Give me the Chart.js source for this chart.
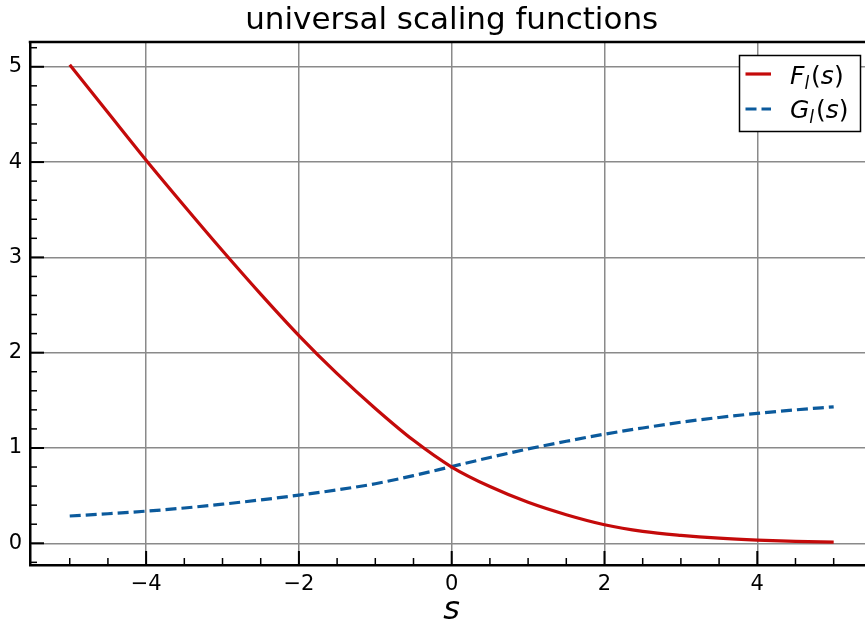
<!DOCTYPE html>
<html>
<head>
<meta charset="utf-8">
<script src="https://cdn.jsdelivr.net/npm/chart.js@4/dist/chart.umd.min.js"></script>
<style>
  html, body { margin: 0; padding: 0; background: #fff; }
  canvas { display: block; }
</style>
</head>
<body>
<canvas id="myChart" width="865" height="624"></canvas>
<script>
// values
const sValues = [-5, -4.5, -4, -3.5, -3, -2.5, -2, -1.5, -1, -0.5, 0, 0.5, 1, 1.5, 2, 2.5, 3, 3.5, 4, 4.5, 5];
const fValues = [5.02, 4.52, 4.02, 3.54, 3.07, 2.615, 2.18, 1.78, 1.415, 1.08, 0.80, 0.595, 0.43, 0.30, 0.195, 0.125, 0.083, 0.053, 0.033, 0.02, 0.012];
const gValues = [0.286, 0.31, 0.337, 0.37, 0.41, 0.455, 0.505, 0.56, 0.625, 0.71, 0.805, 0.90, 0.99, 1.07, 1.145, 1.21, 1.27, 1.32, 1.363, 1.40, 1.432];

const xTicks = [-4, -2, 0, 2, 4];
const yTicks = [0, 1, 2, 3, 4, 5];
const title = 'universal scaling functions';

const RED = '#c40a0a';
const BLUE = '#0b5a9c';
const FONT = 'DejaVu Sans';

function toPoints(ys) {
    return sValues.map((s, i) => ({ x: s, y: ys[i] }));
}

// inward ticks, top spine, title, axis label and legend
const decor = {
    id: 'decor',
    afterDraw(chart) {
        const ctx = chart.ctx;
        const a = chart.chartArea;
        const xs = chart.scales.x, ys = chart.scales.y;
        ctx.save();
        ctx.strokeStyle = '#000';

        // top spine
        ctx.lineWidth = 2.5;
        ctx.beginPath();
        ctx.moveTo(a.left - 1.25, a.top);
        ctx.lineTo(a.right, a.top);
        ctx.stroke();

        // x ticks
        for (let v = -5; v <= 5.001; v += 0.5) {
            const major = Math.abs(v % 2) < 1e-6;
            const px = xs.getPixelForValue(v);
            ctx.lineWidth = major ? 2 : 1.5;
            ctx.beginPath();
            ctx.moveTo(px, a.bottom);
            ctx.lineTo(px, a.bottom - (major ? 14 : 7));
            ctx.stroke();
        }
        // y ticks
        for (let v = -0.2; v <= 5.21; v += 0.2) {
            const r = Math.round(v * 10) / 10;
            const major = Math.abs(r - Math.round(r)) < 1e-6;
            const py = ys.getPixelForValue(r);
            ctx.lineWidth = major ? 2 : 1.5;
            ctx.beginPath();
            ctx.moveTo(a.left, py);
            ctx.lineTo(a.left + (major ? 14 : 7), py);
            ctx.stroke();
        }

        // title
        ctx.fillStyle = '#000';
        ctx.font = '31px "' + FONT + '"';
        ctx.textAlign = 'center';
        ctx.textBaseline = 'alphabetic';
        const cx = xs.getPixelForValue(0);
        ctx.fillText(title, cx, 29);

        // axis label
        ctx.font = 'italic 32px "' + FONT + '"';
        ctx.fillText('s', cx, 619);

        // legend
        const lx = 739.5, ly = 55.5, lw = 121, lh = 76;
        ctx.fillStyle = '#fff';
        ctx.fillRect(lx, ly, lw, lh);
        ctx.lineWidth = 1.5;
        ctx.strokeStyle = '#000';
        ctx.strokeRect(lx, ly, lw, lh);

        const rows = [
            { base: 'F', color: RED, dash: [], y: 74, baseline: 84 },
            { base: 'G', color: BLUE, dash: [11, 5], y: 109, baseline: 118 }
        ];
        rows.forEach(r => {
            ctx.strokeStyle = r.color;
            ctx.lineWidth = 3.2;
            ctx.setLineDash(r.dash);
            ctx.beginPath();
            ctx.moveTo(745.5, r.y);
            ctx.lineTo(771, r.y);
            ctx.stroke();
            ctx.setLineDash([]);

            ctx.fillStyle = '#000';
            ctx.textAlign = 'left';
            let x = 790;
            ctx.font = 'italic 25px "' + FONT + '"';
            ctx.fillText(r.base, x, r.baseline);
            x += ctx.measureText(r.base).width;
            ctx.font = 'italic 17px "' + FONT + '"';
            ctx.fillText('l', x, r.baseline + 5);
            x += ctx.measureText('l').width + 2;
            ctx.font = '25px "' + FONT + '"';
            ctx.fillText('(', x, r.baseline);
            x += ctx.measureText('(').width;
            ctx.font = 'italic 25px "' + FONT + '"';
            ctx.fillText('s', x, r.baseline);
            x += ctx.measureText('s').width;
            ctx.font = '25px "' + FONT + '"';
            ctx.fillText(')', x, r.baseline);
        });
        ctx.restore();
    }
};

const config = {
    type: 'line',
    data: {
        datasets: [
            {
                label: 'F_l(s)',
                data: toPoints(fValues),
                borderColor: RED,
                borderWidth: 3.2,
                pointRadius: 0,
                cubicInterpolationMode: 'monotone',
                fill: false
            },
            {
                label: 'G_l(s)',
                data: toPoints(gValues),
                borderColor: BLUE,
                borderWidth: 3.2,
                borderDash: [11, 5],
                pointRadius: 0,
                cubicInterpolationMode: 'monotone',
                fill: false
            }
        ]
    },
    options: {
        responsive: false,
        animation: false,
        layout: { padding: { top: 42, right: 0, left: 0, bottom: 0 } },
        plugins: {
            legend: { display: false },
            title: { display: false },
            tooltip: { enabled: false }
        },
        scales: {
            x: {
                type: 'linear',
                min: -5.52,
                max: 5.41,
                afterFit: s => { s.height = 59; },
                afterBuildTicks: s => { s.ticks = xTicks.map(v => ({ value: v })); },
                grid: { color: '#8a8a8a', lineWidth: 1.5, drawTicks: false },
                border: { color: '#000', width: 2.5 },
                ticks: {
                    padding: 7,
                    color: '#000',
                    font: { family: FONT, size: 21 },
                    callback: v => String(v).replace('-', '\u2212')
                }
            },
            y: {
                type: 'linear',
                min: -0.228,
                max: 5.26,
                afterFit: s => { s.width = 30; },
                afterBuildTicks: s => { s.ticks = yTicks.map(v => ({ value: v })); },
                grid: { color: '#8a8a8a', lineWidth: 1.5, drawTicks: false },
                border: { color: '#000', width: 2.5 },
                ticks: {
                    padding: 8,
                    color: '#000',
                    font: { family: FONT, size: 21 },
                    callback: v => String(v)
                }
            }
        }
    },
    plugins: [decor]
};

const chart = new Chart(document.getElementById('myChart'), config);
</script>
</body>
</html>
